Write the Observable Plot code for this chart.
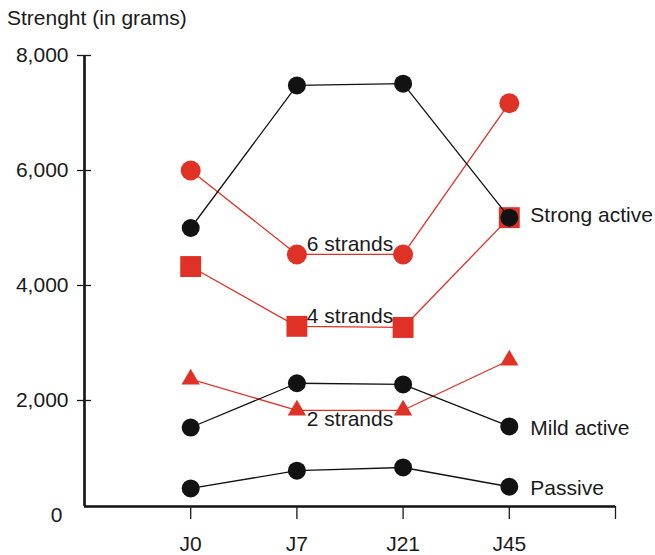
<!DOCTYPE html>
<html>
<head>
<meta charset="utf-8">
<script src="https://cdn.jsdelivr.net/npm/d3@7"></script>
<script src="https://cdn.jsdelivr.net/npm/@observablehq/plot@0.6"></script>
<style>
  html, body { margin: 0; padding: 0; background: #fff; }
  #title {
    font-family: "Liberation Sans", Arial, Helvetica, sans-serif;
    font-size: 21px; line-height: 24px; color: #1a1a1a;
    height: 30px; box-sizing: border-box; padding: 6px 0 0 7px;
  }
  svg { display: block; }
</style>
</head>
<body>
<div id="title">Strenght (in grams)</div>
<div id="chart"></div>
<script>
const categories = ["J0", "J7", "J21", "J45"];
const passive      = [470, 780, 835, 500];
const mildActive   = [1530, 2300, 2280, 1550];
const strongActive = [5000, 7480, 7510, 5180];
const strands6     = [6000, 4540, 4540, 7170];
const strands4     = [4330, 3290, 3270, 5180];
const strands2     = [2370, 1830, 1830, 2700];
const yTicks = [0, 2000, 4000, 6000, 8000];

const RED = "#e03127", BLACK = "#121212";

const series = [
  {name: "6 strands", values: strands6, color: RED, symbol: "circle", r: 10, kind: "strand", dy: -10},
  {name: "4 strands", values: strands4, color: RED, symbol: "square", r: 11.8, kind: "strand", dy: -11},
  {name: "2 strands", values: strands2, color: RED, symbol: "triangle", r: 6.8, kind: "strand", dy: 9},
  {name: "Strong active", values: strongActive, color: BLACK, symbol: "circle", r: 9, kind: "name", dy: -2},
  {name: "Mild active", values: mildActive, color: BLACK, symbol: "circle", r: 9, kind: "name", dy: 2},
  {name: "Passive", values: passive, color: BLACK, symbol: "circle", r: 9, kind: "name", dy: 2}
];

const rows = s => s.values.map((v, i) => ({series: s.name, x: i + 1, value: v}));

const marks = [];
for (const s of series) {
  marks.push(Plot.line(rows(s), {x: "x", y: "value", stroke: s.color, strokeWidth: 1.3}));
  marks.push(Plot.dot(rows(s), {x: "x", y: "value", fill: s.color, symbol: s.symbol, r: s.r}));
}
for (const s of series) {
  if (s.kind === "strand") {
    // label centred between J7 and J21
    marks.push(Plot.text([{x: 2.5, value: (s.values[1] + s.values[2]) / 2, t: s.name}],
      {x: "x", y: "value", text: "t", dy: s.dy, fontSize: 21, fill: "#1a1a1a"}));
  } else {
    const last = s.values.length - 1;
    marks.push(Plot.text([{x: last + 1, value: s.values[last], t: s.name}],
      {x: "x", y: "value", text: "t", dx: 21, dy: s.dy, textAnchor: "start", fontSize: 21, fill: "#1a1a1a"}));
  }
}

const plot = Plot.plot({
  width: 655,
  height: 525,
  marginLeft: 84,
  marginRight: 40,
  marginTop: 25,
  marginBottom: 49,
  style: {fontFamily: "'Liberation Sans', Arial, Helvetica, sans-serif", fontSize: "21px", color: "#1a1a1a", background: "#fff"},
  x: {type: "linear", domain: [0, categories.length + 1], label: null},
  y: {domain: [0, 8000], range: [485, 25], label: null},
  marks: [
    // axis lines
    Plot.ruleX([0], {stroke: "#111", strokeWidth: 2.6}),
    Plot.ruleY([0], {stroke: "#111", strokeWidth: 2.6, dy: -9}),
    Plot.axisX({
      ticks: d3.range(1, categories.length + 2),
      tickFormat: d => categories[d - 1] ?? "",
      tickSize: 13, tickPadding: 17, fontSize: 21, strokeWidth: 1.3, label: null
    }),
    Plot.axisY({
      ticks: yTicks.filter(d => d > 0),
      tickFormat: d3.format(","),
      tickSize: 14, dx: 7, tickPadding: 9, fontSize: 21, strokeWidth: 1.3, label: null
    }),
    Plot.axisY({
      ticks: yTicks.filter(d => d === 0),
      tickFormat: d3.format(","),
      tickSize: 0, tickPadding: 22, fontSize: 21, label: null
    }),
    ...marks
  ]
});
document.getElementById("chart").appendChild(plot);
</script>
</body>
</html>
